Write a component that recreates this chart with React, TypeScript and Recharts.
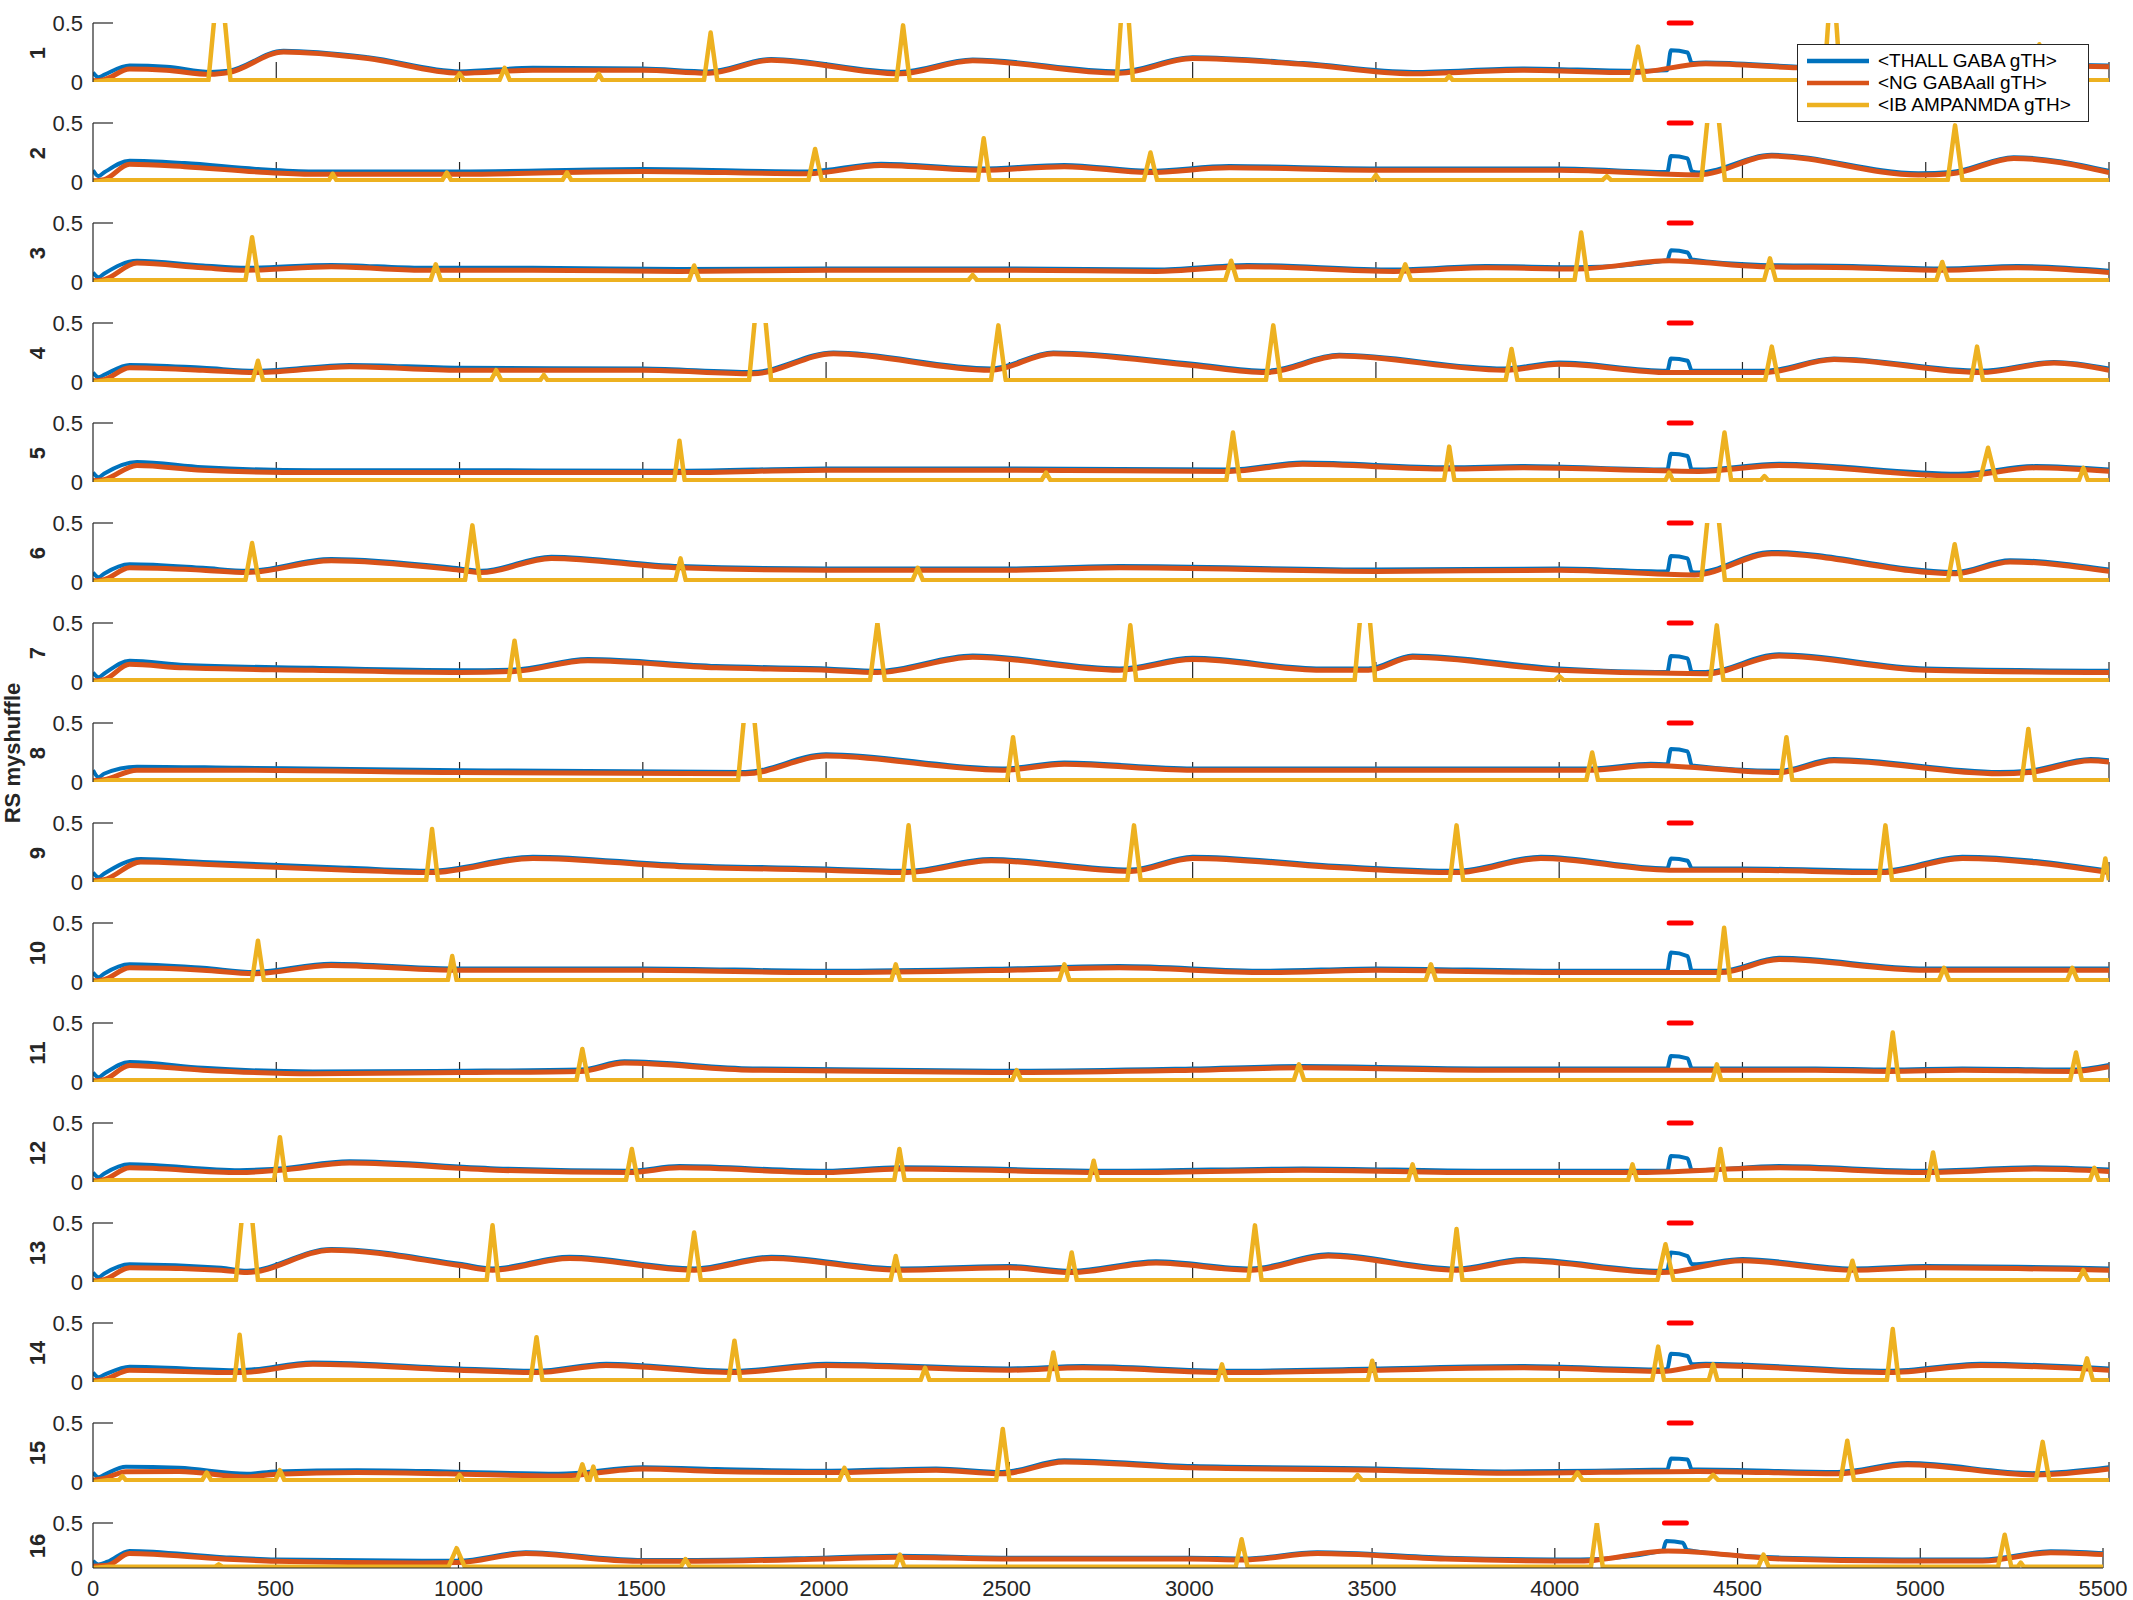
import React from 'react';
import { LineChart, Line, XAxis, YAxis, ReferenceLine } from 'recharts';

// panel names (y labels) and legend names
const PANELS = ['1', '2', '3', '4', '5', '6', '7', '8', '9', '10', '11', '12', '13', '14', '15', '16'];
const SERIES = ['<THALL GABA gTH>', '<NG GABAall gTH>', '<IB AMPANMDA gTH>'];
const COLORS = ['#0072BD', '#D95319', '#EDB120'];
const AXIS = '#262626';

const X_TICKS = [0, 500, 1000, 1500, 2000, 2500, 3000, 3500, 4000, 4500, 5000, 5500];
const Y_TICKS = [0, 0.5];
const STIM = [4300, 4360]; // red bar (ms), drawn at the 0.5 level
const IB_BASE = 0.015;

// <NG GABAall gTH> knots per panel: [ms, value]
const NG = [
  [[0,0.01],[30,0.02],[100,0.11],[200,0.1],[320,0.065],[370,0.08],[520,0.255],[750,0.2],[1000,0.075],[1200,0.1],[1500,0.1],[1680,0.075],[1850,0.185],[2200,0.07],[2400,0.18],[2800,0.075],[3000,0.2],[3300,0.15],[3600,0.07],[3900,0.1],[4200,0.08],[4400,0.155],[4650,0.12],[4750,0.11],[4950,0.18],[5300,0.14],[5500,0.13]],
  [[0,0.01],[30,0.02],[100,0.15],[250,0.13],[450,0.085],[600,0.066],[1000,0.066],[1500,0.09],[1950,0.07],[2150,0.14],[2420,0.1],[2650,0.13],[2880,0.08],[3100,0.12],[3500,0.1],[4000,0.1],[4380,0.06],[4580,0.22],[4980,0.06],[5070,0.07],[5240,0.2],[5500,0.08]],
  [[0,0.01],[30,0.02],[120,0.16],[300,0.12],[420,0.1],[650,0.13],[900,0.1],[1200,0.1],[1600,0.09],[2000,0.1],[2500,0.1],[2900,0.09],[3150,0.13],[3550,0.09],[3800,0.12],[4050,0.11],[4300,0.18],[4550,0.13],[4800,0.12],[5050,0.1],[5250,0.12],[5500,0.08]],
  [[0,0.01],[30,0.02],[100,0.12],[300,0.1],[450,0.08],[700,0.13],[1000,0.1],[1500,0.1],[1800,0.07],[2020,0.24],[2450,0.1],[2620,0.24],[3000,0.14],[3200,0.08],[3400,0.22],[3850,0.1],[4000,0.15],[4300,0.08],[4560,0.08],[4750,0.19],[5150,0.08],[5350,0.16],[5500,0.1]],
  [[0,0.01],[30,0.02],[120,0.14],[300,0.1],[600,0.08],[1000,0.08],[1600,0.08],[2000,0.1],[2500,0.1],[3100,0.09],[3300,0.15],[3700,0.11],[3900,0.12],[4380,0.09],[4600,0.14],[5090,0.05],[5300,0.12],[5500,0.09]],
  [[0,0.01],[30,0.02],[100,0.12],[300,0.1],[420,0.08],[650,0.18],[1000,0.1],[1060,0.08],[1250,0.2],[1600,0.12],[2000,0.1],[2500,0.1],[2800,0.12],[3500,0.09],[4000,0.1],[4370,0.06],[4580,0.24],[5080,0.07],[5230,0.17],[5500,0.09]],
  [[0,0.01],[30,0.02],[100,0.15],[250,0.12],[600,0.1],[1000,0.08],[1150,0.09],[1350,0.18],[1700,0.12],[2000,0.1],[2140,0.08],[2400,0.21],[2800,0.1],[3000,0.19],[3350,0.1],[3480,0.1],[3600,0.21],[4000,0.1],[4400,0.07],[4600,0.22],[5000,0.1],[5500,0.08]],
  [[0,0.01],[30,0.02],[120,0.1],[400,0.1],[1000,0.08],[1780,0.07],[2000,0.22],[2480,0.1],[2650,0.15],[3000,0.1],[3400,0.1],[3800,0.1],[4090,0.1],[4250,0.14],[4600,0.08],[4750,0.18],[5200,0.07],[5280,0.08],[5450,0.18],[5500,0.17]],
  [[0,0.01],[30,0.02],[130,0.17],[300,0.15],[700,0.1],[920,0.08],[1200,0.2],[1600,0.13],[2000,0.1],[2220,0.08],[2450,0.18],[2830,0.09],[3000,0.2],[3400,0.12],[3720,0.08],[3950,0.2],[4300,0.1],[4500,0.1],[4880,0.08],[5100,0.2],[5500,0.08]],
  [[0,0.01],[30,0.02],[100,0.12],[300,0.1],[440,0.07],[650,0.14],[980,0.1],[1500,0.1],[2000,0.08],[2500,0.1],[2800,0.12],[3200,0.08],[3500,0.1],[4000,0.08],[4440,0.08],[4600,0.19],[5000,0.1],[5500,0.1]],
  [[0,0.01],[30,0.02],[100,0.14],[300,0.1],[600,0.07],[1000,0.08],[1330,0.09],[1450,0.16],[1800,0.1],[2500,0.08],[3000,0.1],[3300,0.12],[3800,0.1],[4300,0.1],[4700,0.1],[4900,0.09],[5100,0.1],[5400,0.09],[5500,0.13]],
  [[0,0.01],[30,0.02],[100,0.12],[400,0.08],[510,0.1],[700,0.16],[1100,0.1],[1460,0.08],[1600,0.12],[2000,0.08],[2200,0.11],[2800,0.08],[3300,0.1],[3800,0.08],[4200,0.08],[4600,0.12],[5000,0.08],[5300,0.11],[5500,0.09]],
  [[0,0.01],[30,0.02],[100,0.12],[350,0.1],[420,0.08],[650,0.27],[1000,0.14],[1090,0.1],[1300,0.2],[1640,0.1],[1850,0.2],[2200,0.1],[2500,0.12],[2670,0.08],[2900,0.16],[3160,0.1],[3370,0.22],[3720,0.1],[3900,0.18],[4280,0.08],[4500,0.18],[4800,0.1],[5000,0.12],[5500,0.1]],
  [[0,0.01],[30,0.02],[100,0.1],[400,0.08],[600,0.15],[1000,0.1],[1210,0.08],[1400,0.14],[1750,0.08],[2000,0.14],[2500,0.1],[2700,0.12],[3100,0.08],[3500,0.1],[3900,0.12],[4280,0.09],[4400,0.14],[4900,0.08],[5150,0.14],[5500,0.1]],
  [[0,0.015],[30,0.03],[90,0.087],[235,0.09],[420,0.043],[500,0.066],[720,0.08],[965,0.07],[1270,0.05],[1500,0.11],[1700,0.09],[2000,0.08],[2300,0.1],[2480,0.07],[2650,0.17],[3000,0.12],[3500,0.1],[3850,0.074],[4380,0.09],[4760,0.07],[4950,0.147],[5300,0.06],[5500,0.11]],
  [[0,0.02],[40,0.03],[100,0.16],[356,0.1],[500,0.075],[900,0.056],[1000,0.06],[1184,0.16],[1490,0.075],[1650,0.075],[2000,0.1],[2200,0.12],[2500,0.1],[3000,0.1],[3150,0.09],[3350,0.16],[3700,0.1],[4070,0.077],[4310,0.19],[4620,0.1],[4950,0.077],[5170,0.077],[5357,0.17],[5500,0.15]],
];

// <THALL GABA gTH> knots per panel: [ms, value], incl. the block under the red bar
const THALL = [
  [[0,0.08],[15,0.04],[30,0.06],[100,0.14],[200,0.13],[320,0.085],[370,0.095],[520,0.265],[750,0.21],[1000,0.09],[1200,0.12],[1500,0.115],[1680,0.09],[1850,0.195],[2200,0.085],[2400,0.19],[2800,0.09],[3000,0.21],[3300,0.16],[3600,0.085],[3900,0.115],[4200,0.095],[4295,0.1],[4305,0.27],[4350,0.25],[4362,0.16],[4400,0.165],[4650,0.13],[4750,0.12],[4950,0.19],[5300,0.15],[5500,0.14]],
  [[0,0.1],[15,0.05],[30,0.08],[100,0.18],[250,0.16],[450,0.11],[600,0.09],[1000,0.09],[1500,0.11],[1950,0.09],[2150,0.155],[2420,0.115],[2650,0.145],[2880,0.095],[3100,0.135],[3500,0.115],[4000,0.115],[4295,0.085],[4305,0.22],[4350,0.2],[4362,0.09],[4380,0.08],[4580,0.23],[4980,0.075],[5070,0.085],[5240,0.21],[5500,0.095]],
  [[0,0.08],[15,0.04],[30,0.07],[120,0.18],[300,0.14],[420,0.12],[650,0.145],[900,0.12],[1200,0.12],[1600,0.11],[2000,0.115],[2500,0.115],[2900,0.105],[3150,0.145],[3550,0.105],[3800,0.135],[4050,0.125],[4295,0.185],[4305,0.27],[4350,0.25],[4362,0.19],[4550,0.145],[4800,0.135],[5050,0.115],[5250,0.135],[5500,0.095]],
  [[0,0.08],[15,0.04],[30,0.06],[100,0.145],[300,0.12],[450,0.095],[700,0.145],[1000,0.12],[1500,0.115],[1800,0.085],[2020,0.25],[2450,0.115],[2620,0.25],[3000,0.155],[3200,0.095],[3400,0.23],[3850,0.115],[4000,0.165],[4295,0.095],[4305,0.2],[4350,0.18],[4362,0.095],[4560,0.095],[4750,0.2],[5150,0.095],[5350,0.17],[5500,0.115]],
  [[0,0.08],[15,0.04],[30,0.07],[120,0.17],[300,0.125],[600,0.1],[1000,0.1],[1600,0.095],[2000,0.115],[2500,0.115],[3100,0.105],[3300,0.165],[3700,0.125],[3900,0.135],[4295,0.105],[4305,0.24],[4350,0.22],[4362,0.105],[4380,0.105],[4600,0.155],[5090,0.07],[5300,0.135],[5500,0.105]],
  [[0,0.08],[15,0.04],[30,0.07],[100,0.15],[300,0.12],[420,0.095],[650,0.195],[1000,0.115],[1060,0.095],[1250,0.215],[1600,0.135],[2000,0.115],[2500,0.115],[2800,0.135],[3500,0.105],[4000,0.115],[4295,0.09],[4305,0.22],[4350,0.2],[4362,0.085],[4370,0.08],[4580,0.255],[5080,0.085],[5230,0.185],[5500,0.105]],
  [[0,0.08],[15,0.04],[30,0.07],[100,0.18],[250,0.145],[600,0.12],[1000,0.1],[1150,0.105],[1350,0.195],[1700,0.135],[2000,0.115],[2140,0.095],[2400,0.225],[2800,0.115],[3000,0.205],[3350,0.115],[3480,0.115],[3600,0.225],[4000,0.115],[4295,0.085],[4305,0.22],[4350,0.2],[4362,0.085],[4400,0.085],[4600,0.235],[5000,0.115],[5500,0.095]],
  [[0,0.1],[15,0.04],[30,0.07],[120,0.13],[400,0.12],[1000,0.1],[1780,0.085],[2000,0.235],[2480,0.115],[2650,0.165],[3000,0.115],[3400,0.115],[3800,0.115],[4090,0.115],[4250,0.155],[4295,0.15],[4305,0.28],[4350,0.26],[4362,0.14],[4600,0.095],[4750,0.195],[5200,0.085],[5280,0.095],[5450,0.195],[5500,0.185]],
  [[0,0.08],[15,0.04],[30,0.07],[130,0.195],[300,0.17],[700,0.12],[920,0.095],[1200,0.215],[1600,0.145],[2000,0.115],[2220,0.095],[2450,0.195],[2830,0.105],[3000,0.215],[3400,0.135],[3720,0.095],[3950,0.215],[4295,0.115],[4305,0.2],[4350,0.18],[4362,0.115],[4500,0.115],[4880,0.095],[5100,0.215],[5500,0.095]],
  [[0,0.08],[15,0.04],[30,0.07],[100,0.15],[300,0.12],[440,0.085],[650,0.155],[980,0.115],[1500,0.115],[2000,0.095],[2500,0.115],[2800,0.135],[3200,0.095],[3500,0.115],[4000,0.095],[4295,0.095],[4305,0.25],[4350,0.22],[4362,0.095],[4440,0.095],[4600,0.205],[5000,0.115],[5500,0.115]],
  [[0,0.08],[15,0.04],[30,0.07],[100,0.17],[300,0.12],[600,0.09],[1000,0.095],[1330,0.105],[1450,0.175],[1800,0.115],[2500,0.095],[3000,0.115],[3300,0.135],[3800,0.115],[4295,0.115],[4305,0.22],[4350,0.2],[4362,0.115],[4700,0.115],[4900,0.105],[5100,0.115],[5400,0.105],[5500,0.145]],
  [[0,0.08],[15,0.04],[30,0.07],[100,0.15],[400,0.1],[510,0.115],[700,0.175],[1100,0.115],[1460,0.095],[1600,0.135],[2000,0.095],[2200,0.125],[2800,0.095],[3300,0.115],[3800,0.095],[4295,0.095],[4305,0.22],[4350,0.2],[4362,0.1],[4600,0.135],[5000,0.095],[5300,0.125],[5500,0.105]],
  [[0,0.08],[15,0.04],[30,0.07],[100,0.15],[350,0.12],[420,0.095],[650,0.28],[1000,0.155],[1090,0.115],[1300,0.215],[1640,0.115],[1850,0.215],[2200,0.115],[2500,0.135],[2670,0.095],[2900,0.175],[3160,0.115],[3370,0.235],[3720,0.115],[3900,0.195],[4280,0.095],[4295,0.1],[4305,0.25],[4350,0.22],[4362,0.15],[4500,0.195],[4800,0.115],[5000,0.135],[5500,0.115]],
  [[0,0.08],[15,0.04],[30,0.06],[100,0.13],[400,0.1],[600,0.165],[1000,0.115],[1210,0.095],[1400,0.155],[1750,0.095],[2000,0.155],[2500,0.115],[2700,0.135],[3100,0.095],[3500,0.115],[3900,0.135],[4280,0.105],[4295,0.11],[4305,0.24],[4350,0.22],[4362,0.15],[4400,0.155],[4900,0.095],[5150,0.155],[5500,0.115]],
  [[0,0.08],[15,0.04],[30,0.06],[90,0.13],[235,0.12],[420,0.07],[500,0.09],[720,0.1],[965,0.09],[1270,0.07],[1500,0.125],[1700,0.11],[2000,0.095],[2300,0.115],[2480,0.085],[2650,0.185],[3000,0.135],[3500,0.115],[3850,0.09],[4295,0.105],[4305,0.2],[4350,0.19],[4362,0.105],[4380,0.105],[4760,0.085],[4950,0.16],[5300,0.075],[5500,0.125]],
  [[0,0.08],[15,0.04],[40,0.07],[100,0.19],[356,0.12],[500,0.095],[900,0.08],[1000,0.08],[1184,0.175],[1490,0.09],[1650,0.09],[2000,0.115],[2200,0.135],[2500,0.115],[3000,0.115],[3150,0.105],[3350,0.175],[3700,0.115],[4070,0.095],[4295,0.19],[4305,0.3],[4350,0.28],[4362,0.2],[4620,0.115],[4950,0.095],[5170,0.095],[5357,0.185],[5500,0.165]],
];

// <IB AMPANMDA gTH> bursts per panel: [ms, peak, half width ms]; peaks above 0.5 are clipped
const IB = [
  [[345,1.0,30],[1000,0.07,12],[1123,0.12,14],[1380,0.07,10],[1685,0.42,18],[2210,0.48,18],[2815,1.0,22],[3700,0.05,10],[4215,0.3,18],[4745,1.0,22],[5310,0.32,15]],
  [[654,0.07,10],[965,0.08,12],[1293,0.08,12],[1970,0.28,18],[2430,0.37,16],[2885,0.25,18],[3500,0.06,10],[4130,0.05,12],[4420,1.0,32],[5080,0.48,20]],
  [[434,0.38,18],[935,0.15,14],[1640,0.14,14],[2400,0.06,12],[3105,0.18,16],[3580,0.15,16],[4060,0.42,18],[4575,0.2,16],[5045,0.17,16]],
  [[450,0.18,14],[1100,0.1,14],[1230,0.06,10],[1820,1.0,30],[2470,0.48,20],[3220,0.48,20],[3870,0.28,16],[4580,0.3,18],[5140,0.3,16]],
  [[1600,0.35,14],[2600,0.08,12],[3110,0.42,18],[3700,0.3,14],[4300,0.08,10],[4451,0.42,18],[4560,0.05,10],[5170,0.29,22],[5430,0.12,12]],
  [[434,0.33,18],[1035,0.48,20],[1603,0.2,14],[2250,0.12,14],[4420,1.0,32],[5079,0.32,18]],
  [[1150,0.35,16],[2140,0.5,20],[2830,0.48,16],[3470,1.0,28],[4000,0.05,12],[4430,0.48,18]],
  [[1790,1.0,30],[2510,0.38,16],[4090,0.25,16],[4620,0.38,16],[5280,0.45,18]],
  [[925,0.45,16],[2225,0.48,16],[2840,0.48,18],[3720,0.48,18],[4890,0.48,18],[5490,0.2,10]],
  [[450,0.35,16],[980,0.22,12],[2190,0.15,12],[2650,0.15,14],[3650,0.15,14],[4450,0.46,16],[5050,0.12,14],[5400,0.12,14]],
  [[1335,0.28,16],[2520,0.1,12],[3290,0.15,14],[4430,0.15,12],[4910,0.42,16],[5410,0.25,16]],
  [[510,0.38,16],[1470,0.28,16],[2200,0.28,14],[2730,0.18,12],[3600,0.15,12],[4200,0.15,12],[4440,0.28,14],[5020,0.25,14],[5460,0.12,12]],
  [[420,1.0,30],[1090,0.48,16],[1640,0.42,18],[2190,0.22,14],[2670,0.25,14],[3170,0.48,18],[3720,0.45,16],[4290,0.32,22],[4800,0.18,14],[5430,0.1,14]],
  [[400,0.4,14],[1210,0.38,16],[1750,0.35,16],[2270,0.12,12],[2620,0.25,14],[3080,0.15,12],[3490,0.18,12],[4270,0.3,16],[4420,0.15,12],[4910,0.45,16],[5440,0.2,16]],
  [[80,0.05,10],[310,0.08,12],[510,0.1,12],[1000,0.06,10],[1335,0.15,14],[1365,0.13,10],[2050,0.12,14],[2482,0.45,18],[3450,0.06,12],[4050,0.08,14],[4420,0.06,14],[4786,0.35,18],[5319,0.34,18]],
  [[344,0.04,10],[995,0.22,22],[1621,0.1,12],[2208,0.15,12],[3143,0.32,16],[4115,0.5,16],[4571,0.15,14],[5231,0.37,18],[5275,0.06,8]],
];

// layout (px)
const W = 2133;
const H = 1600;
const PLOT_LEFT = 93;
const TICK_PX = 20;
const FONT = '"Liberation Sans", Arial, sans-serif';

const panelTop = (i: number) => 23 + 100 * i;
const panelH = (i: number) => (i === 15 ? 45 : 59);
const panelRight = (i: number) => (i === 15 ? 2103 : 2109);

const knotRows = (knots: number[][]) => knots.map(([t, v]) => ({ t, v }));

const burstRows = (bursts: number[][]) => {
  const rows = [{ t: 0, v: 0 }, { t: 40, v: IB_BASE }];
  bursts.forEach(([t, p, hw]) => {
    rows.push({ t: t - hw, v: IB_BASE }, { t, v: p }, { t: t + hw, v: IB_BASE });
  });
  rows.push({ t: 5500, v: IB_BASE });
  return rows;
};

const Panel = ({ i }: { i: number }) => {
  const PAD = 14;
  const last = i === PANELS.length - 1;
  const h = panelH(i);
  const right = panelRight(i);
  const labelH = last ? 40 : 0;
  const tickY = (0.5 * TICK_PX) / h;
  const tickX = (TICK_PX / (right - PLOT_LEFT)) * 5500;

  return (
    <div style={{ position: 'absolute', left: 0, top: panelTop(i) - PAD }}>
      <LineChart width={W} height={h + 2 * PAD + labelH} margin={{ top: PAD, right: W - right, bottom: PAD, left: 0 }}>
        <XAxis
          type="number"
          dataKey="t"
          domain={[0, 5500]}
          ticks={X_TICKS}
          interval={0}
          allowDataOverflow
          height={labelH}
          tickLine={false}
          tickSize={0}
          tickMargin={12}
          tick={last ? { fontSize: 22, fill: AXIS, fontFamily: FONT } : false}
          axisLine={{ stroke: AXIS, strokeWidth: 1.2 }}
        />
        <YAxis
          type="number"
          domain={[0, 0.5]}
          ticks={Y_TICKS}
          allowDataOverflow
          width={PLOT_LEFT}
          tickLine={false}
          tickSize={0}
          tickMargin={10}
          tick={{ fontSize: 22, fill: AXIS, fontFamily: FONT }}
          axisLine={{ stroke: AXIS, strokeWidth: 1.2 }}
        />
        {X_TICKS.slice(1).map((t) => (
          <ReferenceLine key={t} segment={[{ x: t, y: 0 }, { x: t, y: tickY }]} stroke={AXIS} strokeWidth={1.2} />
        ))}
        <ReferenceLine segment={[{ x: 0, y: 0.5 }, { x: tickX, y: 0.5 }]} stroke={AXIS} strokeWidth={1.2} />
        <Line data={knotRows(THALL[i])} dataKey="v" type="monotone" stroke={COLORS[0]} strokeWidth={4}
          dot={false} activeDot={false} isAnimationActive={false} />
        <Line data={knotRows(NG[i])} dataKey="v" type="monotone" stroke={COLORS[1]} strokeWidth={5}
          dot={false} activeDot={false} isAnimationActive={false} />
        <Line data={burstRows(IB[i])} dataKey="v" type="linear" stroke={COLORS[2]} strokeWidth={4.5}
          strokeLinejoin="round" dot={false} activeDot={false} isAnimationActive={false} />
        <ReferenceLine
          segment={[{ x: STIM[0], y: 0.5 }, { x: STIM[1], y: 0.5 }]}
          stroke="#FF0000"
          strokeWidth={5}
          strokeLinecap="round"
        />
      </LineChart>
    </div>
  );
};

const rotated = (cx: number, cy: number, text: string, key?: string) => (
  <div
    key={key}
    style={{
      position: 'absolute',
      left: cx,
      top: cy,
      transform: 'translate(-50%, -50%) rotate(-90deg)',
      whiteSpace: 'nowrap',
      fontWeight: 'bold',
      fontSize: 22,
      color: AXIS,
      lineHeight: 1,
    }}
  >
    {text}
  </div>
);

const App = () => (
  <div style={{ position: 'absolute', left: 0, top: 0, width: W, height: H, background: '#fff', fontFamily: FONT }}>
    {PANELS.map((_, i) => (
      <Panel key={i} i={i} />
    ))}
    {PANELS.map((name, i) => rotated(38, panelTop(i) + panelH(i) / 2, name, 'p' + i))}
    {rotated(13, panelTop(7) + panelH(7) / 2, 'RS myshuffle')}

    <div
      style={{
        position: 'absolute',
        left: 1797,
        top: 44,
        width: 292,
        height: 78,
        boxSizing: 'border-box',
        border: `1.2px solid ${AXIS}`,
        background: '#fff',
        paddingTop: 5,
      }}
    >
      {SERIES.map((name, k) => (
        <div key={name} style={{ display: 'flex', alignItems: 'center', height: 22 }}>
          <svg width={80} height={8} style={{ flex: 'none' }}>
            <line x1={9} y1={4} x2={71} y2={4} stroke={COLORS[k]} strokeWidth={4.5} />
          </svg>
          <span style={{ fontSize: 19, color: '#000', whiteSpace: 'nowrap' }}>{name}</span>
        </div>
      ))}
    </div>
  </div>
);

export default App;
